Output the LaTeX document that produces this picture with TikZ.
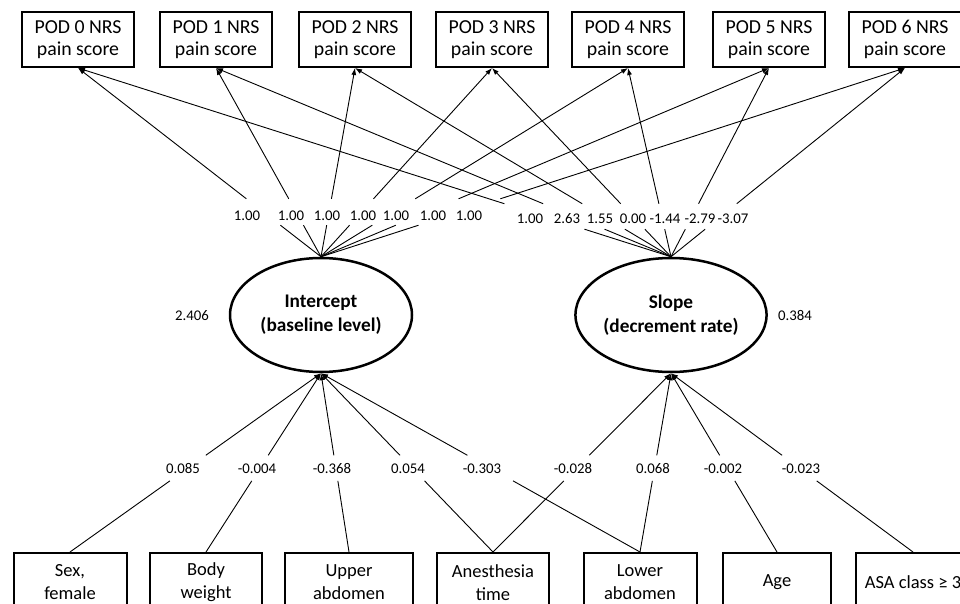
\documentclass[tikz,border=0pt]{standalone}
\usepackage{fontspec}
\setmainfont{Carlito}
\usetikzlibrary{shapes.geometric,arrows.meta,calc}
\begin{document}
\begin{tikzpicture}[x=1pt,y=-1pt,
 box/.style={draw,line width=2pt,minimum width=112pt,minimum height=55pt,inner sep=0pt,align=center,font=\fontsize{19.8}{22}\selectfont},
 bbox/.style={box,minimum height=59pt,font=\fontsize{18.5}{23}\selectfont},
 lat/.style={draw,ellipse,line width=2.5pt,minimum width=182pt,minimum height=114pt,inner sep=0pt,align=center,font=\fontsize{19.3}{24}\selectfont\bfseries},
 lab/.style={inner sep=0pt,text height=10pt,text depth=0pt,font=\fontsize{14.8}{16}\selectfont},
 conn/.style={line width=0.9pt},
 arr/.style={conn,-{Latex[length=7pt,width=5pt]}}]
\useasboundingbox (0,0) rectangle (960,604);
\clip (0,0) rectangle (960,604);
% top boxes
\node[box] (p0) at (78,39.5)  {POD 0 NRS\\pain score};
\node[box] (p1) at (216,39.5) {POD 1 NRS\\pain score};
\node[box] (p2) at (355,39.5) {POD 2 NRS\\pain score};
\node[box] (p3) at (492,39.5) {POD 3 NRS\\pain score};
\node[box] (p4) at (628,39.5) {POD 4 NRS\\pain score};
\node[box] (p5) at (769,39.5) {POD 5 NRS\\pain score};
\node[box] (p6) at (905,39.5) {POD 6 NRS\\pain score};
% latent
\node[lat] (int) at (321,315) {Intercept\\(baseline level)};
\node[lat] (slp) at (671,315) {Slope\\(decrement rate)};
\node[lab] (vi) at (192,315) {2.406};
\node[lab] (vs) at (795,315) {0.384};
% bottom boxes
\node[bbox,minimum width=113pt] (b0) at (70,582.5) {Sex,\\female};
\node[bbox] (b1) at (206,582.5) {Body\\weight};
\node[bbox,minimum width=128pt] (b2) at (349,582.5) {Upper\\abdomen};
\node[bbox] (b3) at (493,582.5) {Anesthesia\\time};
\node[bbox,minimum width=113pt] (b4) at (640,582.5) {Lower\\abdomen};
\node[bbox,minimum width=108pt] (b5) at (777,582.5) {Age};
\node[bbox,minimum width=114pt] (b6) at (913,582.5) {ASA class ≥ 3};
% loadings on intercept
\foreach \i/\x in {0/247,1/291,2/327,3/363,4/396,5/433,6/469}{
  \node[lab] (li\i) at (\x,215) {1.00};
  \draw[conn] (int.north) -- ($(int.north)!0.167!(p\i.south)$);
  \draw[arr] ($(int.north)!0.307!(p\i.south)$) -- (p\i.south);
}
% loadings on slope
\foreach \i/\x/\t in {0/530/1.00,1/567/2.63,2/600/1.55,3/633/0.00,4/665/-1.44,5/700/-2.79,6/733/-3.07}{
  \node[lab] (ls\i) at (\x,218) {\t};
  \draw[conn] (slp.north) -- ($(slp.north)!0.146!(p\i.south)$);
  \draw[arr] ($(slp.north)!0.281!(p\i.south)$) -- (p\i.south);
}
% covariate paths
\foreach \b/\l/\x/\t in {b0/int/183/0.085,b1/int/257/-0.004,b2/int/332/-0.368,b3/int/408/0.054,b4/int/482/-0.303,b3/slp/573/-0.028,b4/slp/653/0.068,b5/slp/723/-0.002,b6/slp/801/-0.023}{
  \node[lab] (lb\x) at (\x,468) {\t};
  \draw[conn] (\b.north) -- ($(\b.north)!0.398!(\l.south)$);
  \draw[arr] ($(\b.north)!0.541!(\l.south)$) -- (\l.south);
}
\end{tikzpicture}
\end{document}
